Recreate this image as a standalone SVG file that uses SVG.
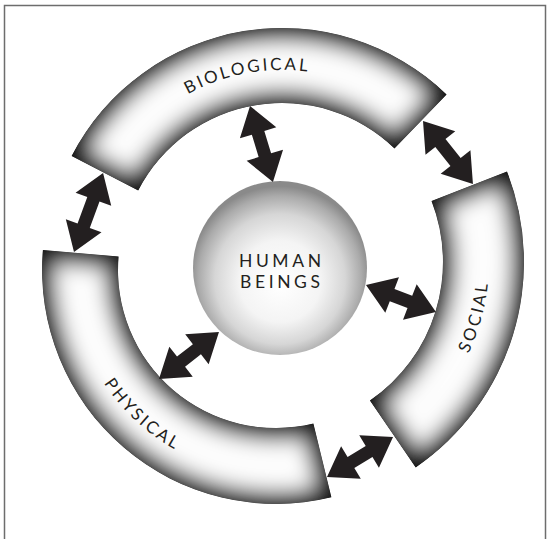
<svg xmlns="http://www.w3.org/2000/svg" xmlns:xlink="http://www.w3.org/1999/xlink" width="551" height="539" viewBox="0 0 551 539">
<style>
.lbl{font-family:Lato,"Open Sans","Liberation Sans",sans-serif;font-size:17px;letter-spacing:2.6px;fill:#231f20}
.core{font-family:Lato,"Open Sans","Liberation Sans",sans-serif;font-size:17.5px;letter-spacing:3.6px;fill:#231f20;text-anchor:middle}
.arrow{fill:#231f20}
.base{fill:#111111}
.glow{fill:#fdfdfd;stroke:#111111;stroke-width:26}
</style>
<defs>
<filter id="soft" filterUnits="userSpaceOnUse" x="0" y="0" width="551" height="539"><feGaussianBlur stdDeviation="10"/></filter>
<radialGradient id="sphereGrad" cx="0.5" cy="0.55" r="0.52" fx="0.5" fy="0.6">
<stop offset="0" stop-color="#ffffff"/>
<stop offset="0.45" stop-color="#f4f4f4"/>
<stop offset="0.72" stop-color="#d6d6d6"/>
<stop offset="0.9" stop-color="#ababab"/>
<stop offset="1" stop-color="#8a8a8a"/>
</radialGradient>
<path id="bioShape" d="M71.6,155.9 A237,237 0 0 1 446.6,94.5 L394.5,148.5 A162,162 0 0 0 138.2,190.4 Z"/>
<path id="socShape" d="M507.0,171.5 A249,249 0 0 1 415.7,467.4 L369.9,400.6 A168,168 0 0 0 431.5,201.0 Z"/>
<path id="phyShape" d="M331.4,497.3 A234,234 0 0 1 42.9,250.0 L118.6,256.5 A158,158 0 0 0 313.4,423.5 Z"/>
<clipPath id="clipBio"><use xlink:href="#bioShape"/></clipPath>
<clipPath id="clipSoc"><use xlink:href="#socShape"/></clipPath>
<clipPath id="clipPhy"><use xlink:href="#phyShape"/></clipPath>
<path id="bioText" d="M108.9,175.3 A195,195 0 0 1 417.5,124.7"/>
<path id="socText" d="M395.9,438.6 A214,214 0 0 0 474.4,184.3"/>
<path id="phyText" d="M70.8,252.4 A206,206 0 0 0 324.8,470.1"/>
</defs>
<rect x="4.5" y="5.5" width="541" height="560" fill="none" stroke="#6d6d6d" stroke-width="1.5"/>
<g id="biological">
<g clip-path="url(#clipBio)">
<use xlink:href="#bioShape" class="base"/>
<use xlink:href="#bioShape" class="glow" filter="url(#soft)"/>
</g>
<text class="lbl"><textPath xlink:href="#bioText" startOffset="49%" text-anchor="middle">BIOLOGICAL</textPath></text>
</g>
<g id="social">
<g clip-path="url(#clipSoc)">
<use xlink:href="#socShape" class="base"/>
<use xlink:href="#socShape" class="glow" filter="url(#soft)"/>
</g>
<text class="lbl"><textPath xlink:href="#socText" startOffset="52.4%" text-anchor="middle">SOCIAL</textPath></text>
</g>
<g id="physical">
<g clip-path="url(#clipPhy)">
<use xlink:href="#phyShape" class="base"/>
<use xlink:href="#phyShape" class="glow" filter="url(#soft)"/>
</g>
<text class="lbl"><textPath xlink:href="#phyText" startOffset="48%" text-anchor="middle">PHYSICAL</textPath></text>
</g>
<g id="human-beings">
<circle cx="280" cy="268" r="87" fill="url(#sphereGrad)"/>
<text class="core" x="281.8" y="266.5">HUMAN</text>
<text class="core" x="281.8" y="287.5">BEINGS</text>
</g>
<g id="connectors">
<polygon class="arrow" transform="translate(74,252) rotate(-69.8)" points="0,0 28,-19 28,-6.5 56.2,-6.5 56.2,-19 84.2,0 56.2,19 56.2,6.5 28,6.5 28,19"/>
<polygon class="arrow" transform="translate(423,121) rotate(51.6)" points="0,0 28,-19 28,-6.5 52.4,-6.5 52.4,-19 80.4,0 52.4,19 52.4,6.5 28,6.5 28,19"/>
<polygon class="arrow" transform="translate(327,477) rotate(-31.2)" points="0,0 28,-19 28,-6.5 49.2,-6.5 49.2,-19 77.2,0 49.2,19 49.2,6.5 28,6.5 28,19"/>
<polygon class="arrow" transform="translate(250,106) rotate(73.2)" points="0,0 28,-19 28,-6.5 51.4,-6.5 51.4,-19 79.4,0 51.4,19 51.4,6.5 28,6.5 28,19"/>
<polygon class="arrow" transform="translate(366,285) rotate(21.1)" points="0,0 28,-19 28,-6.5 47,-6.5 47,-19 75,0 47,19 47,6.5 28,6.5 28,19"/>
<polygon class="arrow" transform="translate(159,379) rotate(-38.1)" points="0,0 28,-19 28,-6.5 48.2,-6.5 48.2,-19 76.2,0 48.2,19 48.2,6.5 28,6.5 28,19"/>
</g>
</svg>
